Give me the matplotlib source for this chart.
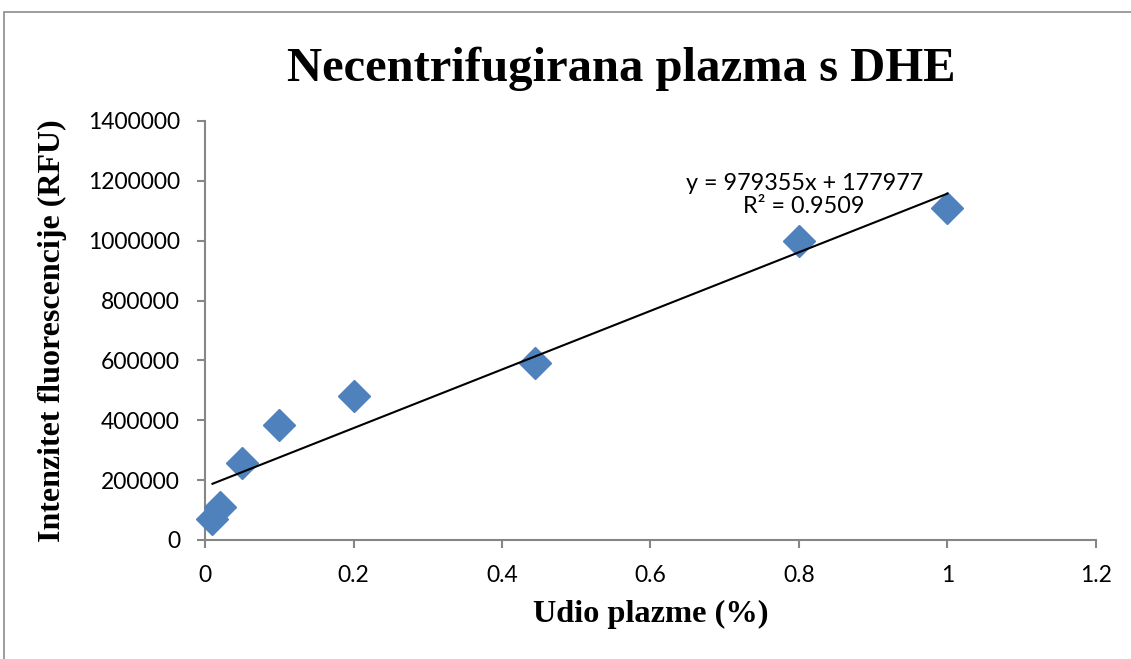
import matplotlib.pyplot as plt
from matplotlib.patches import Rectangle

# Data
udio = [0.01, 0.02, 0.05, 0.1, 0.2, 0.445, 0.8, 1.0]
intenzitet = [70000, 110000, 258000, 385000, 480000, 590000, 1000000, 1108000]

# Trendline from the chart label
slope = 979355
intercept = 177977
r2 = 0.9509

x_ticks = [0, 0.2, 0.4, 0.6, 0.8, 1, 1.2]
x_tick_labels = ['0', '0.2', '0.4', '0.6', '0.8', '1', '1.2']
y_ticks = [0, 200000, 400000, 600000, 800000, 1000000, 1200000, 1400000]

fig = plt.figure(figsize=(11.31, 6.59), dpi=100)
ax = fig.add_axes([0.1813, 0.1806, 0.969 - 0.1813, 0.8164 - 0.1806])

# outer chart frame (only top and left visible in the reference)
fig.patches.append(Rectangle((4 / 1131, -0.2), 1.5, (659 - 12) / 659 + 0.2,
                             transform=fig.transFigure, fill=False,
                             edgecolor='#8c8c8c', linewidth=1.2))

ax.plot(udio, intenzitet, linestyle='none', marker='D', markersize=16,
        color='#4F81BD', markeredgecolor='#4F81BD', zorder=3, clip_on=False)

x_fit = [min(udio), max(udio)]
y_fit = [slope * v + intercept for v in x_fit]
ax.plot(x_fit, y_fit, color='black', linewidth=1.5, zorder=4)

ax.text(0.807, 1152000, f'y = {slope}x + {intercept}\nR² = {r2}',
        ha='center', va='center', fontsize=16.8, family='Lato',
        linespacing=1.1)

ax.set_xlim(0, 1.2)
ax.set_ylim(0, 1400000)
ax.set_xticks(x_ticks)
ax.set_xticklabels(x_tick_labels)
ax.set_yticks(y_ticks)
ax.set_yticklabels([str(v) for v in y_ticks])

for lbl in ax.get_xticklabels() + ax.get_yticklabels():
    lbl.set_family('Lato')
    lbl.set_fontsize(16.5)

for side in ['top', 'right']:
    ax.spines[side].set_visible(False)
for side in ['left', 'bottom']:
    ax.spines[side].set_color('#868686')
    ax.spines[side].set_linewidth(1.5)
ax.tick_params(axis='both', direction='out', length=6, width=1.5,
               color='#868686', pad=12)

ax.set_title('Necentrifugirana plazma s DHE', family='Liberation Serif',
             fontweight='bold', fontsize=35, pad=29, x=0.467)
ax.set_xlabel('Udio plazme (%)', family='Liberation Serif',
              fontweight='bold', fontsize=23.3, labelpad=10)
ax.set_ylabel('Intenzitet fluorescencije (RFU)', family='Liberation Serif',
              fontweight='bold', fontsize=23, labelpad=15)

fig.savefig('out.png', dpi=100, facecolor='white')
